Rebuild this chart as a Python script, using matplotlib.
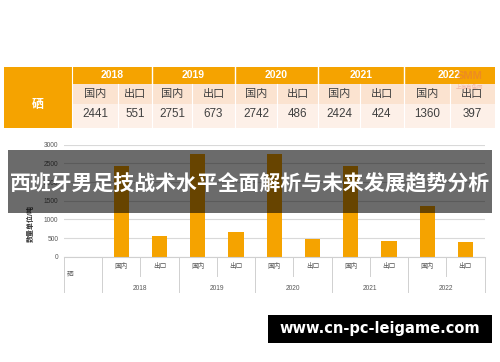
import matplotlib.pyplot as plt
from matplotlib.patches import Rectangle
import numpy as np

plt.rcParams['font.family'] = ['Liberation Sans', 'Noto Sans CJK SC', 'DejaVu Sans']

# data
years = ['2018', '2019', '2020', '2021', '2022']
domestic = [2441, 2751, 2742, 2424, 1360]
export = [551, 673, 486, 424, 397]
sub_labels = ['国内', '出口']
element = '硒'
ylabel = '数量单位/吨'
title = '西班牙男足技战术水平全面解析与未来发展趋势分析'
site = 'www.cn-pc-leigame.com'

ORANGE = '#f5a300'
W, H = 500, 362

fig = plt.figure(figsize=(5, 3.62), dpi=100)


def px(x0, y0, x1, y1):
    # pixel box (origin top-left) -> figure fraction rect
    return [x0 / W, 1 - y1 / H, (x1 - x0) / W, (y1 - y0) / H]


# ---- bar chart ----
ax = fig.add_axes(px(64, 144.7, 484.5, 256.7))
n = len(years)
xd = np.arange(n) * 2 + 1
xe = xd + 1
ax.bar(xd, domestic, width=0.4, color=ORANGE, zorder=2)
ax.bar(xe, export, width=0.4, color=ORANGE, zorder=2)
ax.set_xlim(-0.5, 2 * n + 0.5)
ax.set_ylim(0, 3000)
ax.set_yticks(np.arange(0, 3001, 500))
ax.yaxis.grid(True, color='#d9d9d9', lw=0.8)
ax.set_axisbelow(True)
for s in ['top', 'right', 'left']:
    ax.spines[s].set_visible(False)
ax.spines['bottom'].set_color('#d0d0d0')
ax.tick_params(axis='y', length=0, labelsize=4.8, labelcolor='#595959', pad=4)
ax.set_xticks([])

tr = ax.get_xaxis_transform()
for i, yr in enumerate(years):
    for j, lab in enumerate(sub_labels):
        ax.text(xd[i] + j, -0.09, lab, transform=tr, ha='center', va='center',
                fontsize=4.8, color='#595959')
    ax.text(xd[i] + 0.5, -0.28, yr, transform=tr, ha='center', va='center',
            fontsize=4.8, color='#595959')
ax.text(-0.42, -0.155, element, transform=tr, ha='left', va='center',
        fontsize=4.8, color='#595959')
for x in [-0.5] + list(np.arange(n + 1) * 2 + 0.5):
    ax.plot([x, x], [0, -0.315], transform=tr, color='#d0d0d0', lw=0.7, clip_on=False)
for x in np.arange(n) * 2 + 1.5:
    ax.plot([x, x], [0, -0.172], transform=tr, color='#d0d0d0', lw=0.7, clip_on=False)
fig.text(31 / W, 1 - 224 / H, ylabel, rotation=90, ha='center', va='center',
         fontsize=5, color='#333333', fontweight='bold')

# ---- overlay: table, banner, watermark ----
ov = fig.add_axes([0, 0, 1, 1], zorder=5)
ov.set_xlim(0, W)
ov.set_ylim(H, 0)
ov.axis('off')
ov.patch.set_alpha(0)

edges = [72, 118, 152, 192, 235, 277, 318, 360, 404, 450, 495]
ov.add_patch(Rectangle((4, 66.5), 68, 61.5, color=ORANGE, lw=0))
ov.add_patch(Rectangle((72, 66.5), 423, 17.5, color=ORANGE, lw=0))
ov.add_patch(Rectangle((72, 84), 423, 20, color='#fbe3d0', lw=0))
ov.add_patch(Rectangle((72, 104), 423, 24, color='#fdf0e8', lw=0))
for k in range(1, len(edges) - 1):
    if k % 2 == 0:
        ov.plot([edges[k], edges[k]], [66.5, 84], color='white', lw=1)
    ov.plot([edges[k], edges[k]], [84, 128], color='white', lw=0.8)
ov.plot([72, 72], [66.5, 128], color='white', lw=0.8)
ov.text(38, 105, element, ha='center', va='center', fontsize=8.5,
        color='white', fontweight='bold')
for i, yr in enumerate(years):
    ov.text((edges[2 * i] + edges[2 * i + 2]) / 2, 75, yr, ha='center', va='center',
            fontsize=7.5, color='white', fontweight='bold')
    vals = [domestic[i], export[i]]
    for j in range(2):
        cx = (edges[2 * i + j] + edges[2 * i + j + 1]) / 2
        ov.text(cx, 94.5, sub_labels[j], ha='center', va='center',
                fontsize=8, color='#404040')
        ov.text(cx, 114, str(vals[j]), ha='center', va='center',
                fontsize=8.4, color='#404040')
ov.text(470, 76, 'SMM', ha='center', va='center', fontsize=8, color='#e06060',
        alpha=0.35, fontweight='bold')
ov.text(470, 87, '上海有色网', ha='center', va='center', fontsize=4, color='#e06060',
        alpha=0.35)

ov.add_patch(Rectangle((8, 150), 484, 62.5, color='black', alpha=0.58, lw=0))
ov.text(250, 183.5, title, ha='center', va='center', fontsize=15, color='white',
        fontweight='bold', family=['Noto Sans CJK SC'])

ov.add_patch(Rectangle((268, 315), 224, 28, color='black', lw=0))
ov.text(380, 329, site, ha='center', va='center', fontsize=10.5, color='white',
        fontweight='bold', family=['DejaVu Sans'])

fig.savefig('out.png', dpi=100)
